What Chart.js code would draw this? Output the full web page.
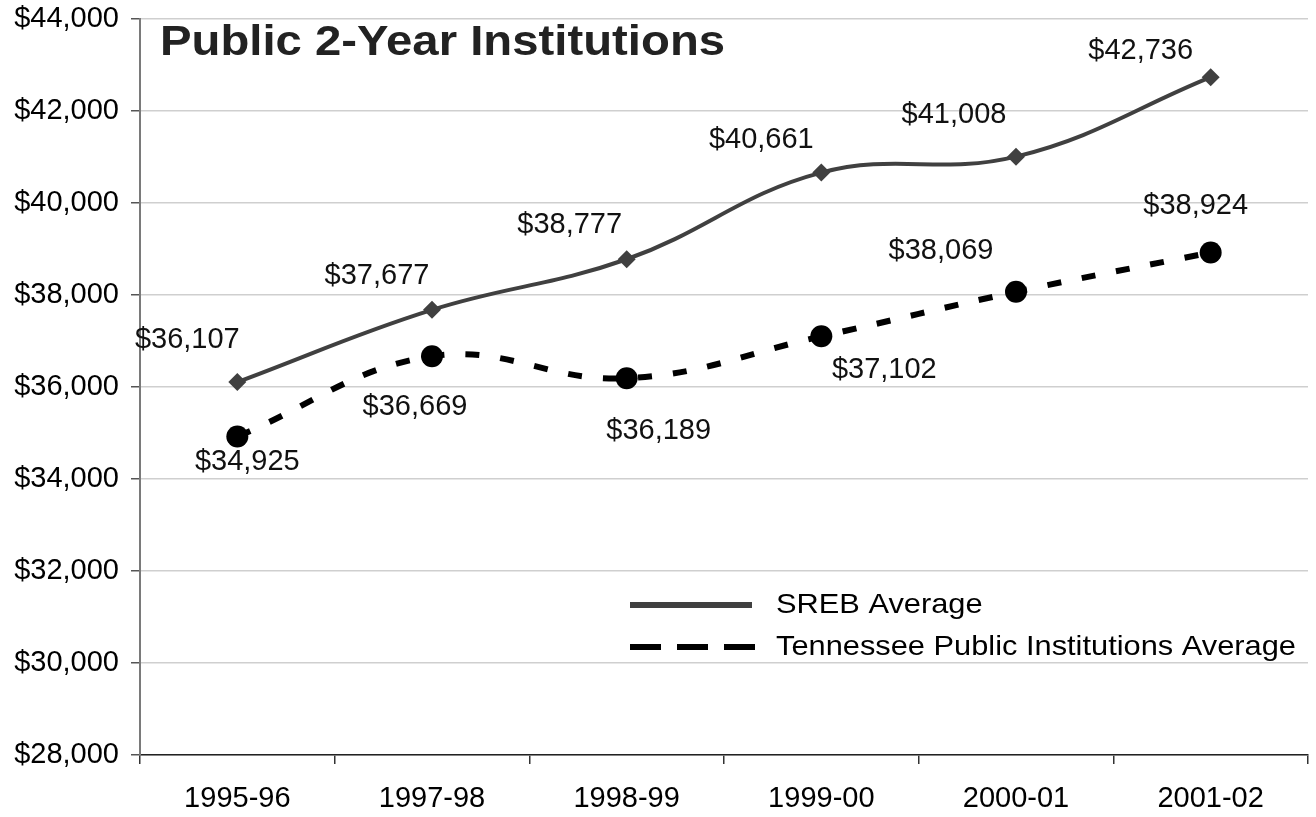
<!DOCTYPE html>
<html>
<head>
<meta charset="utf-8">
<script src="https://cdn.jsdelivr.net/npm/chart.js@4/dist/chart.umd.min.js"></script>
<style>
  html, body { margin: 0; padding: 0; background: #fff; overflow: hidden; }
  #wrap { position: relative; width: 1319px; height: 817px; }
</style>
</head>
<body>
<div id="wrap"><canvas id="c"></canvas></div>
<script>
const categories = ['1995-96', '1997-98', '1998-99', '1999-00', '2000-01', '2001-02'];
const srebValues = [36107, 37677, 38777, 40661, 41008, 42736];
const tennValues = [34925, 36669, 36189, 37102, 38069, 38924];
const seriesNames = ['SREB Average', 'Tennessee Public Institutions Average'];
const chartTitle = 'Public 2-Year Institutions';
const yTickMin = 28000, yTickMax = 44000, yTickStep = 2000;

const FONT = '"Liberation Sans", Arial, sans-serif';
const fmt = v => '$' + v.toLocaleString('en-US');

function stretchedText(ctx, text, x, y, sx) {
  ctx.save();
  ctx.translate(x, y);
  ctx.scale(sx, 1);
  ctx.fillText(text, 0, 0);
  ctx.restore();
}

const decorPlugin = {
  id: 'decor',
  afterDatasetsDraw(chart, args, opts) {
    const ctx = chart.ctx;
    ctx.save();
    // data labels
    ctx.font = '29px ' + FONT;
    ctx.fillStyle = '#111';
    ctx.textAlign = 'center';
    ctx.textBaseline = 'middle';
    chart.data.datasets.forEach((ds, di) => {
      const meta = chart.getDatasetMeta(di);
      const offs = opts.labelOffsets[di];
      meta.data.forEach((pt, i) => {
        ctx.fillText(fmt(ds.data[i]), pt.x + offs[i][0], pt.y + offs[i][1]);
      });
    });
    // title
    ctx.font = 'bold 43px ' + FONT;
    ctx.fillStyle = '#222';
    ctx.textAlign = 'left';
    ctx.textBaseline = 'alphabetic';
    stretchedText(ctx, chartTitle, 160, 55, 1.1);
    // legend
    const lx = 630, tx = 776;
    const rows = [605, 647];
    ctx.font = '28px ' + FONT;
    ctx.textBaseline = 'middle';
    chart.data.datasets.forEach((ds, di) => {
      const y = rows[di];
      ctx.beginPath();
      ctx.lineWidth = 6;
      ctx.strokeStyle = ds.borderColor;
      ctx.setLineDash(di === 0 ? [] : [31, 16]);
      ctx.moveTo(lx, y);
      ctx.lineTo(lx + (di === 0 ? 122 : 127), y);
      ctx.stroke();
      ctx.setLineDash([]);
      ctx.fillStyle = '#000';
      stretchedText(ctx, ds.label, tx, y, 1.1);
    });
    ctx.restore();
  }
};

new Chart(document.getElementById('c'), {
  type: 'line',
  data: {
    labels: categories,
    datasets: [
      {
        label: seriesNames[0],
        data: srebValues,
        borderColor: '#404040',
        backgroundColor: '#404040',
        borderWidth: 4,
        tension: 0.4,
        pointStyle: 'rectRot',
        pointRadius: 9,
        pointBorderWidth: 0,
        fill: false
      },
      {
        label: seriesNames[1],
        data: tennValues,
        borderColor: '#000',
        backgroundColor: '#000',
        borderWidth: 6,
        borderDash: [14, 21],
        tension: 0.4,
        pointStyle: 'circle',
        pointRadius: 11,
        pointBorderWidth: 0,
        fill: false
      }
    ]
  },
  options: {
    responsive: true,
    maintainAspectRatio: false,
    animation: false,
    layout: { padding: { top: 19, right: 1, left: 0, bottom: 0 } },
    plugins: {
      legend: { display: false },
      title: { display: false },
      tooltip: { enabled: false },
      decor: {
        labelOffsets: [
          [[-50, -42], [-55, -34], [-57, -34], [-60, -33], [-62, -42], [-70, -26]],
          [[10, 26], [-17, 51], [32, 53], [63, 34], [-75, -41], [-15, -46]]
        ]
      }
    },
    scales: {
      x: {
        offset: true,
        afterFit(s) { s.height = 62; s.paddingLeft = 0; s.paddingRight = 0; },
        grid: { display: true, drawOnChartArea: false, offset: true, tickLength: 9, color: '#333', lineWidth: 1.5 },
        border: { display: true, color: '#222', width: 1.5 },
        ticks: { color: '#000', font: { family: FONT, size: 29 }, padding: 18, maxRotation: 0 }
      },
      y: {
        min: yTickMin,
        max: yTickMax,
        afterFit(s) { s.width = 140; s.paddingTop = 0; s.paddingBottom = 0; },
        grid: { color: '#cfcfcf', lineWidth: 1.5, tickLength: 9, tickColor: '#555' },
        border: { display: true, color: '#7a7a7a', width: 2 },
        ticks: { stepSize: yTickStep, color: '#000', font: { family: FONT, size: 29 }, padding: 12, callback: v => fmt(v) }
      }
    }
  },
  plugins: [decorPlugin]
});
</script>
</body>
</html>
